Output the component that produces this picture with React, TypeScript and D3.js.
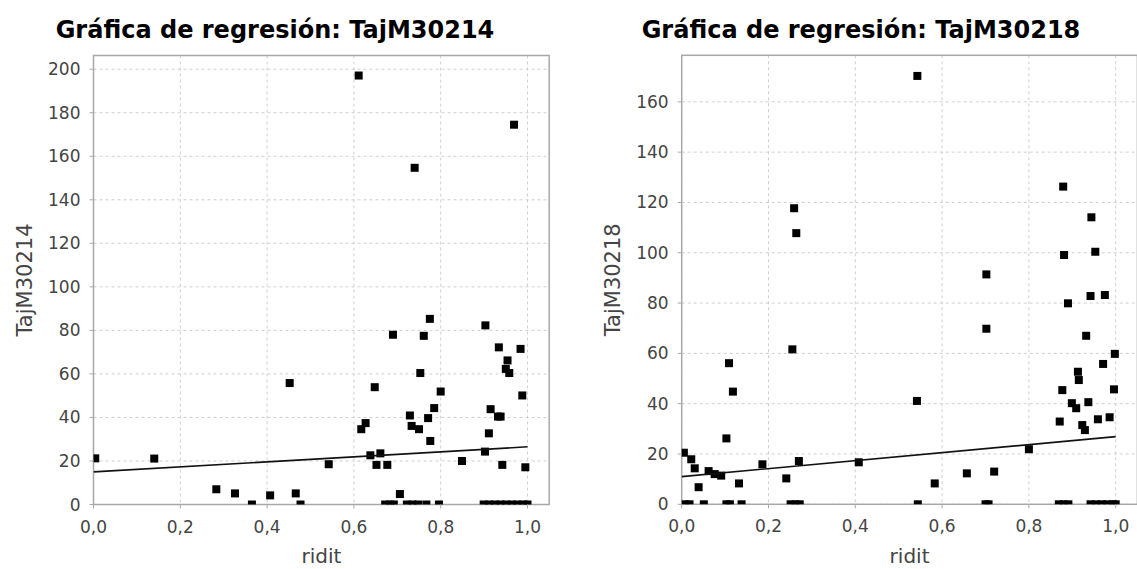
import React from "react";
import * as d3 from "d3";

// ---------- data ----------
const leftRidit = [
  0.004, 0.140, 0.283, 0.326, 0.365, 0.407, 0.452, 0.466, 0.477, 0.542,
  0.611, 0.617, 0.627, 0.638, 0.648, 0.652, 0.661, 0.677, 0.690, 0.706,
  0.672, 0.684, 0.692, 0.722, 0.735, 0.748, 0.767, 0.796,
  0.729, 0.733, 0.740, 0.750, 0.753, 0.761, 0.771, 0.775, 0.776, 0.785, 0.800,
  0.849, 0.902, 0.903, 0.911, 0.915, 0.932, 0.934, 0.938, 0.942, 0.950, 0.954,
  0.958, 0.969, 0.984, 0.988, 0.995,
  0.899, 0.912, 0.925, 0.938, 0.951, 0.964, 0.977, 0.990, 1.0,
];
const leftValues = [
  21.2, 21.1, 7.0, 5.1, 0, 4.2, 55.8, 5.1, 0, 18.5,
  197.1, 34.6, 37.4, 22.6, 53.9, 18.2, 23.5, 18.2, 78.0, 4.8,
  0, 0, 0, 0, 0, 0, 0, 0,
  40.9, 36.1, 154.7, 34.6, 60.4, 77.5, 39.7, 85.3, 29.2, 44.3, 51.9,
  20.0, 24.3, 82.3, 32.7, 43.8, 40.4, 72.2, 40.4, 18.2, 62.3, 66.2,
  60.4, 174.5, 71.5, 50.1, 17.1,
  0, 0, 0, 0, 0, 0, 0, 0, 0,
];
const rightRidit = [
  0.005, 0.022, 0.030, 0.039, 0.062, 0.076, 0.091, 0.103, 0.109, 0.118,
  0.132, 0.186, 0.241, 0.255, 0.259, 0.264, 0.270, 0.408, 0.542, 0.543,
  0.583, 0.657, 0.702, 0.702, 0.720, 0.800, 0.871, 0.877, 0.879, 0.881,
  0.890, 0.899, 0.909, 0.913, 0.915, 0.923, 0.929, 0.932, 0.937, 0.942,
  0.944, 0.953, 0.959, 0.971, 0.975, 0.986, 0.996, 0.998,
  0.008, 0.018, 0.051, 0.103, 0.111, 0.138, 0.251, 0.262, 0.272, 0.544,
  0.700, 0.707, 0.869, 0.880, 0.891, 0.942, 0.955, 0.968, 0.981, 0.994, 1.0,
];
const rightValues = [
  20.5, 17.9, 14.3, 6.8, 13.2, 12.0, 11.4, 26.2, 56.1, 44.8,
  8.3, 15.9, 10.3, 61.6, 117.7, 107.8, 17.2, 16.7, 41.1, 170.3,
  8.3, 12.3, 91.4, 69.8, 13.0, 21.9, 32.9, 45.4, 126.3, 99.1,
  79.9, 40.2, 38.2, 52.7, 49.4, 31.5, 29.5, 67.0, 40.6, 82.8,
  114.1, 100.4, 33.8, 55.8, 83.2, 34.6, 45.7, 59.8,
  0, 0, 0, 0, 0, 0, 0, 0, 0, 0,
  0, 0, 0, 0, 0, 0, 0, 0, 0, 0, 0,
];
const leftIntercept = 15.0;
const leftSlope = 11.5;
const rightIntercept = 11.0;
const rightSlope = 15.9;

const xTicks = [0, 0.2, 0.4, 0.6, 0.8, 1.0];
const leftYTicks = [0, 20, 40, 60, 80, 100, 120, 140, 160, 180, 200];
const rightYTicks = [0, 20, 40, 60, 80, 100, 120, 140, 160];
const leftTitle = "Gráfica de regresión: TajM30214";
const rightTitle = "Gráfica de regresión: TajM30218";
const leftYLabel = "TajM30214";
const rightYLabel = "TajM30218";
const xLabel = "ridit";

// ---------- layout ----------
const W = 1137;
const H = 569;
const FONT = "'DejaVu Sans', Verdana, sans-serif";

type PanelProps = {
  id: string;
  left: number;
  top: number;
  bottom: number;
  yMax: number;
  xs: number[];
  ys: number[];
  intercept: number;
  slope: number;
  yTicks: number[];
  title: string;
  titleX: number;
  yLabel: string;
};

const fmt = (v: number) => v.toFixed(1).replace(".", ",");

function Panel(p: PanelProps) {
  const x = d3.scaleLinear().domain([0, 1.05]).range([p.left, p.left + 434 * 1.05]);
  const y = d3.scaleLinear().domain([0, p.yMax]).range([p.bottom, p.top]);
  const [x0, x1] = x.range();
  const sq = 8;
  const lineGen = d3
    .line<number>()
    .x((d) => x(d))
    .y((d) => y(p.intercept + p.slope * d));
  const gridColor = "#cfcfcf";
  const axisColor = "#a8a8a8";
  const textColor = "#444";
  return (
    <g>
      <defs>
        <clipPath id={p.id}>
          <rect x={x0} y={p.top} width={x1 - x0} height={p.bottom - p.top} />
        </clipPath>
      </defs>
      <text
        x={p.titleX}
        y={38}
        textAnchor="middle"
        fontFamily={FONT}
        fontWeight="bold"
        fontSize={24}
        fill="#000"
      >
        {p.title}
      </text>
      {/* gridlines */}
      {xTicks.map((t) => (
        <line
          key={"gx" + t}
          x1={x(t)}
          x2={x(t)}
          y1={p.top}
          y2={p.bottom}
          stroke={gridColor}
          strokeWidth={1}
          strokeDasharray="3,3"
        />
      ))}
      {p.yTicks.map((t) => (
        <line
          key={"gy" + t}
          x1={x0}
          x2={x1}
          y1={y(t)}
          y2={y(t)}
          stroke={gridColor}
          strokeWidth={1}
          strokeDasharray="3,3"
        />
      ))}
      {/* frame */}
      <rect
        x={x0}
        y={p.top}
        width={x1 - x0}
        height={p.bottom - p.top}
        fill="none"
        stroke={axisColor}
        strokeWidth={1.5}
      />
      {/* points and regression */}
      <g clipPath={`url(#${p.id})`}>
        {p.xs.map((d, i) => (
          <rect
            key={i}
            x={x(d) - sq / 2}
            y={y(p.ys[i]) - sq / 2}
            width={sq}
            height={sq}
            fill="#000"
          />
        ))}
        <path d={lineGen([0, 1]) || ""} fill="none" stroke="#111" strokeWidth={1.6} />
      </g>
      {/* ticks */}
      {xTicks.map((t) => (
        <g key={"tx" + t}>
          <line x1={x(t)} x2={x(t)} y1={p.bottom} y2={p.bottom + 4} stroke={axisColor} />
          <text
            x={x(t)}
            y={p.bottom + 28}
            textAnchor="middle"
            fontFamily={FONT}
            fontSize={17}
            fill={textColor}
          >
            {fmt(t)}
          </text>
        </g>
      ))}
      {p.yTicks.map((t) => (
        <g key={"ty" + t}>
          <line x1={x0 - 4} x2={x0} y1={y(t)} y2={y(t)} stroke={axisColor} />
          <text
            x={x0 - 13}
            y={y(t) + 6}
            textAnchor="end"
            fontFamily={FONT}
            fontSize={17}
            fill={textColor}
          >
            {t}
          </text>
        </g>
      ))}
      <text
        x={(x0 + x1) / 2}
        y={563}
        textAnchor="middle"
        fontFamily={FONT}
        fontSize={20}
        fill={textColor}
      >
        {xLabel}
      </text>
      <text
        transform={`translate(${x0 - 62},${(p.top + p.bottom) / 2}) rotate(-90)`}
        textAnchor="middle"
        fontFamily={FONT}
        fontSize={21}
        fill={textColor}
      >
        {p.yLabel}
      </text>
    </g>
  );
}

export default function App() {
  return (
    <svg
      width={W}
      height={H}
      viewBox={`0 0 ${W} ${H}`}
      style={{ position: "fixed", left: 0, top: 0, background: "#fff" }}
    >
      <rect width={W} height={H} fill="#fff" />
      <Panel
        id="clipL"
        left={93.5}
        top={55.5}
        bottom={504.5}
        yMax={206.3}
        xs={leftRidit}
        ys={leftValues}
        intercept={leftIntercept}
        slope={leftSlope}
        yTicks={leftYTicks}
        title={leftTitle}
        titleX={275}
        yLabel={leftYLabel}
      />
      <Panel
        id="clipR"
        left={681.7}
        top={55.3}
        bottom={504.3}
        yMax={178.5}
        xs={rightRidit}
        ys={rightValues}
        intercept={rightIntercept}
        slope={rightSlope}
        yTicks={rightYTicks}
        title={rightTitle}
        titleX={861}
        yLabel={rightYLabel}
      />
    </svg>
  );
}
